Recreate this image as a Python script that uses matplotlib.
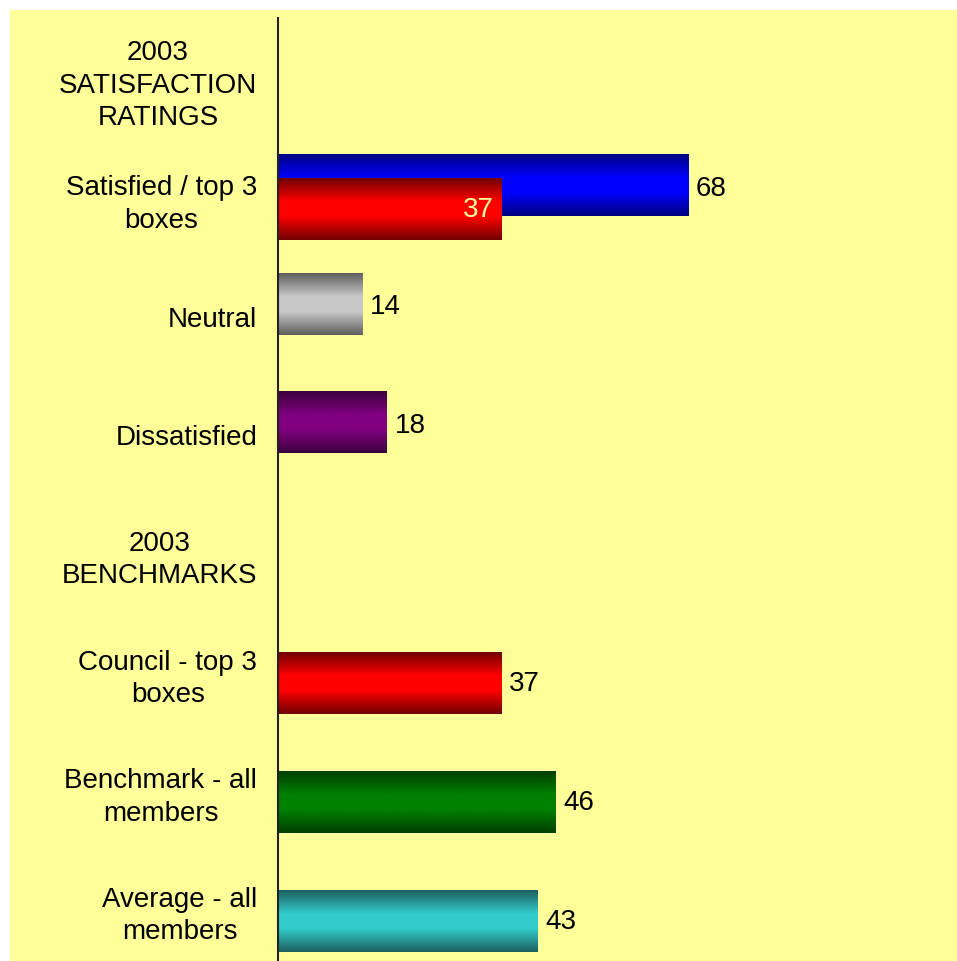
import numpy as np
import matplotlib
matplotlib.use("Agg")
from matplotlib import pyplot as plt
from matplotlib.colors import LinearSegmentedColormap
from matplotlib.patches import Rectangle

# categories, top to bottom
categories = ["2003\nSATISFACTION\nRATINGS", "Satisfied / top 3\nboxes", "Neutral",
              "Dissatisfied", "2003\nBENCHMARKS", "Council - top 3\nboxes",
              "Benchmark - all\nmembers", "Average - all\nmembers"]

# first series (upper bar in each slot) and second series (lower bar)
series_a = [None, 68, 14, 18, None, None, None, None]
series_b = [None, 37, None, None, None, 37, 46, 43]

# (edge colour, centre colour) per bar
colors_a = [None, ("#000080", "#0000FF"), ("#5E5E5E", "#C8C8C8"), ("#3C003C", "#800080"),
            None, None, None, None]
colors_b = [None, ("#700000", "#FF0000"), None, None, None, ("#700000", "#FF0000"),
            ("#003F00", "#008000"), ("#1C5E5E", "#33CCCC")]

# series b value drawn inside the bar
label_inside_b = [False, True, False, False, False, False, False, False]

bg = "#FFFF99"
bar_h = 0.52
off_a = -0.10
off_b = 0.10

fig = plt.figure(figsize=(9.57, 9.62), dpi=100)
fig.patch.set_facecolor("white")
fig.add_artist(Rectangle((10 / 957, 0), 1 - 10 / 957, 1 - 11 / 962,
                         transform=fig.transFigure, facecolor=bg,
                         edgecolor="none", zorder=-10))

ax = fig.add_axes([278 / 957, 0, 603 / 957, 943 / 962])
ax.set_facecolor("none")

grad = np.linspace(0, 1, 256).reshape(-1, 1)


def gradient_bar(y, width, edge, mid):
  # dark at top and bottom, bright band through the middle
  cmap = LinearSegmentedColormap.from_list(
      "g", [(0, edge), (0.38, mid), (0.62, mid), (1, edge)])
  ax.imshow(grad, cmap=cmap, aspect="auto", interpolation="bilinear",
            extent=(0, width, y + bar_h / 2, y - bar_h / 2), zorder=2)


font = "Liberation Sans"
fs = 20
for i, v in enumerate(series_a):
  if v is None:
    continue
  y = i + off_a
  gradient_bar(y, v, *colors_a[i])
  ax.text(v + 1.3, y + 0.02, str(v), va="center", ha="left", fontsize=fs,
          family=font, color="black", zorder=4)

for i, v in enumerate(series_b):
  if v is None:
    continue
  y = i + off_b
  gradient_bar(y, v, *colors_b[i])
  if label_inside_b[i]:
    ax.text(v - 1.3, y, str(v), va="center", ha="right", fontsize=fs,
            family=font, color=bg, zorder=4)
  else:
    ax.text(v + 1.3, y, str(v), va="center", ha="left", fontsize=fs,
            family=font, color="black", zorder=4)

ax.set_xlim(0, 100)
ax.set_ylim(7.44, -0.51)

ax.set_yticks(range(len(categories)))
ax.set_yticklabels(categories, fontsize=fs, family=font, multialignment="center",
                   linespacing=1.32)
ax.tick_params(axis="y", length=0, pad=15)
ax.set_xticks([])
for s in ["top", "right", "bottom"]:
  ax.spines[s].set_visible(False)
ax.spines["left"].set_color("#222222")
ax.spines["left"].set_linewidth(1.5)
ax.spines["left"].set_zorder(5)

fig.savefig("out.png", dpi=100, facecolor=fig.get_facecolor())
